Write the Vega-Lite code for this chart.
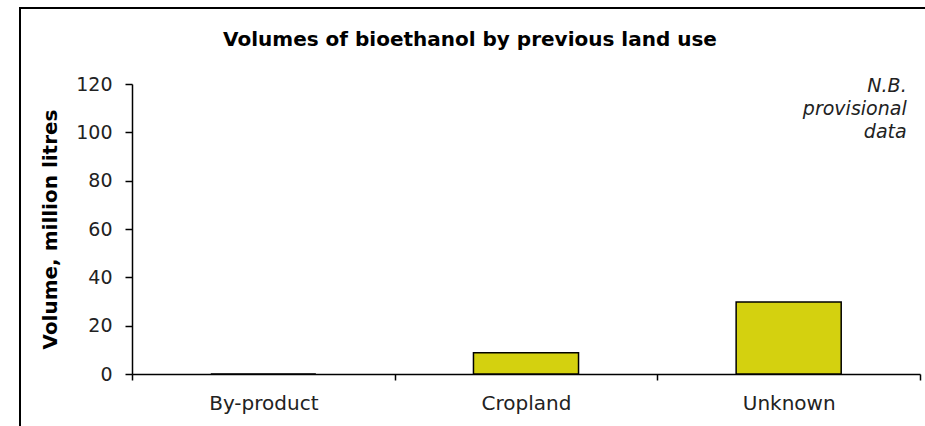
{
  "$schema": "https://vega.github.io/schema/vega-lite/v6.json",
  "autosize": "none",
  "width": 910,
  "height": 423,
  "padding": {"left": 20, "top": 8, "right": -5, "bottom": -5},
  "background": "white",
  "config": {
    "view": {"stroke": "#000", "strokeWidth": 2},
    "font": "DejaVu Sans",
    "axis": {"grid": false}
  },
  "title": {
    "text": "Volumes of bioethanol by previous land use",
    "font": "DejaVu Sans",
    "fontSize": 20,
    "fontWeight": "bold",
    "color": "#000",
    "anchor": "middle",
    "baseline": "alphabetic",
    "offset": -58,
    "dx": -5
  },
  "layer": [
    {
      "data": {
        "values": [
          {"land_use": "By-product", "volume": 0},
          {"land_use": "Cropland", "volume": 8.8},
          {"land_use": "Unknown", "volume": 29.8}
        ]
      },
      "mark": {"type": "bar", "width": {"band": 0.4}, "fill": "#d4d10f", "stroke": "#000", "strokeWidth": 1.5},
      "encoding": {
        "x": {
          "field": "land_use",
          "type": "nominal",
          "sort": null,
          "scale": {"range": [112, 900], "paddingInner": 0, "paddingOuter": 0},
          "axis": {
            "orient": "bottom",
            "offset": -57,
            "title": null,
            "labelAngle": 0,
            "tickSize": 6,
            "tickBand": "extent",
            "labelPadding": 13,
            "labelFontSize": 20,
            "labelColor": "#222",
            "domainColor": "#000",
            "domainWidth": 1.5,
            "tickColor": "#000",
            "tickWidth": 1.5
          }
        },
        "y": {
          "field": "volume",
          "type": "quantitative",
          "scale": {"domain": [0, 120], "range": [366, 76]},
          "axis": {
            "orient": "left",
            "offset": -112,
            "values": [0, 20, 40, 60, 80, 100, 120],
            "tickSize": 7,
            "labelPadding": 13,
            "labelFontSize": 19,
            "labelColor": "#222",
            "domainColor": "#000",
            "domainWidth": 1.5,
            "tickColor": "#000",
            "tickWidth": 1.5,
            "title": "Volume, million litres",
            "titleFontSize": 20,
            "titleFontWeight": "bold",
            "titleColor": "#000",
            "titleAngle": -90,
            "titleX": -82,
            "titleY": 221,
            "titleAlign": "center",
            "titleBaseline": "middle"
          }
        }
      }
    },
    {
      "data": {"values": [{"note": "N.B.\nprovisional\ndata"}]},
      "mark": {
        "type": "text",
        "align": "right",
        "baseline": "alphabetic",
        "fontStyle": "italic",
        "fontSize": 19,
        "lineBreak": "\n",
        "lineHeight": 23,
        "dx": 118,
        "dy": 8,
        "color": "#222"
      },
      "encoding": {
        "x": {"datum": "Unknown"},
        "y": {"datum": 120},
        "text": {"field": "note"}
      }
    }
  ]
}
